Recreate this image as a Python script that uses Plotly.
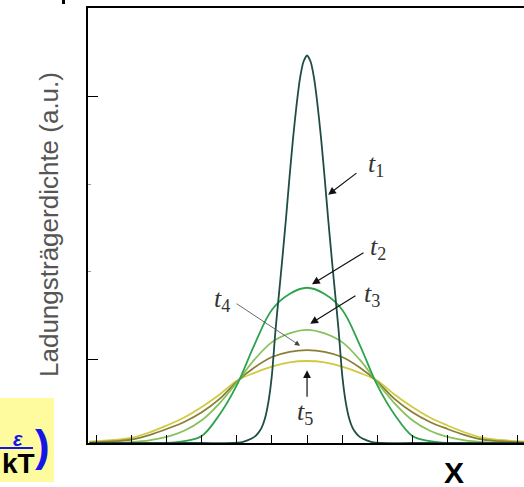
import plotly.graph_objects as go

# ---- data ----
X_WIDE = [-6.2, -6.0, -5.5, -5.0, -4.5, -4.0, -3.5, -3.0, -2.5, -2.0, -1.5, -1.0, -0.5, 0.0,
          0.5, 1.0, 1.5, 2.0, 2.5, 3.0, 3.5, 4.0, 4.5, 5.0, 5.5, 6.0, 6.2]
T2 = [0, 0, 0, 0, 0, 0.0, 0.02, 0.08, 0.32, 0.66, 1.12, 1.52, 1.70, 1.77,
      1.70, 1.52, 1.12, 0.66, 0.32, 0.08, 0.02, 0.0, 0, 0, 0, 0, 0]
T3 = [0, 0, 0, 0.01, 0.03, 0.07, 0.14, 0.26, 0.45, 0.69, 0.95, 1.15, 1.25, 1.29,
      1.25, 1.15, 0.95, 0.69, 0.45, 0.26, 0.14, 0.07, 0.03, 0.01, 0, 0, 0]
T4 = [0.005, 0.01, 0.02, 0.04, 0.09, 0.16, 0.24, 0.35, 0.50, 0.70, 0.86, 0.98, 1.04, 1.06,
      1.04, 0.98, 0.86, 0.70, 0.50, 0.35, 0.24, 0.16, 0.09, 0.04, 0.02, 0.01, 0.005]
T5 = [0.015, 0.02, 0.035, 0.06, 0.12, 0.20, 0.29, 0.41, 0.55, 0.71, 0.80, 0.87, 0.92, 0.935,
      0.92, 0.87, 0.80, 0.71, 0.55, 0.41, 0.29, 0.20, 0.12, 0.06, 0.035, 0.02, 0.015]

X_T1 = [-6.2, -3.0, -2.1, -1.85, -1.7, -1.5, -1.4, -1.3, -1.2, -1.1, -1.0, -0.9, -0.8, -0.7, -0.6, -0.5,
        -0.4, -0.3, -0.2, -0.1, 0.0, 0.1, 0.2, 0.3, 0.4, 0.5, 0.6, 0.7, 0.8, 0.9, 1.0,
        1.1, 1.2, 1.3, 1.4, 1.5, 1.7, 1.85, 2.1, 3.0, 6.2]
T1 = [0, 0, 0, 0.01, 0.03, 0.07, 0.11, 0.17, 0.28, 0.47, 0.78, 1.28, 1.70, 2.12, 2.56, 3.03,
      3.47, 3.85, 4.16, 4.35, 4.42, 4.35, 4.16, 3.85, 3.47, 3.03, 2.56, 2.12, 1.70, 1.28, 0.78,
      0.47, 0.28, 0.17, 0.11, 0.07, 0.03, 0.01, 0, 0, 0]

X_TICKS = [-6, -5, -4, -3, -2, -1, 0, 1, 2, 3, 4, 5, 6]
Y_TICKS_MAJOR = [0.95, 3.95]
Y_TICKS_MINOR = [1.95, 2.95]

LABELS = ["t1", "t2", "t3", "t4", "t5"]
LABEL_POS = {"t1": (1.97, 3.17), "t2": (2.02, 2.22), "t3": (1.85, 1.69),
             "t4": (-2.42, 1.63), "t5": (-0.06, 0.34)}
ARROWS = {"t1": ((1.45, 3.09), (0.60, 2.83)),
          "t2": ((1.65, 2.18), (0.14, 1.81)),
          "t3": ((1.42, 1.69), (0.09, 1.36)),
          "t4": ((-2.05, 1.60), (-0.20, 1.11)),
          "t5": ((0.0, 0.51), (0.0, 0.83))}

COLORS = {"t1": "#1f4d45", "t2": "#2ea34e", "t3": "#86c25a", "t4": "#8a7f34", "t5": "#d0ca42"}

fig = go.Figure()
for name, xs, ys in [("t5", X_WIDE, T5), ("t4", X_WIDE, T4), ("t3", X_WIDE, T3),
                     ("t2", X_WIDE, T2)]:
    fig.add_trace(go.Scatter(x=xs, y=ys, mode="lines", name=name,
                             line=dict(color=COLORS[name], width=1.8, shape="spline", smoothing=1.0),
                             showlegend=False, hoverinfo="skip"))
fig.add_trace(go.Scatter(x=X_T1, y=T1, mode="lines", name="t1",
                         line=dict(color=COLORS["t1"], width=1.8, shape="spline", smoothing=0.6),
                         showlegend=False, hoverinfo="skip"))

# invisible trace on the secondary y axis so that it renders
fig.add_trace(go.Scatter(x=[0], y=[0], yaxis="y2", mode="markers", marker=dict(opacity=0),
                         showlegend=False, hoverinfo="skip"))

annotations = []
for lab in LABELS:
    x, y = LABEL_POS[lab]
    annotations.append(dict(x=x, y=y, xref="x", yref="y", showarrow=False,
                            xanchor="center", yanchor="middle",
                            text="<i>t</i><sub>%s</sub>" % lab[1],
                            font=dict(family="Liberation Serif", size=26, color="#333333")))
    (tx, ty), (hx, hy) = ARROWS[lab]
    annotations.append(dict(x=hx, y=hy, ax=tx, ay=ty, xref="x", yref="y", axref="x", ayref="y",
                            text="", showarrow=True, arrowhead=2, arrowsize=1.3,
                            arrowwidth=1.2 if lab != "t4" else 0.8,
                            arrowcolor="#111111" if lab != "t4" else "#444444"))


def px(xp):
    return (xp - 88) / 436


def py(yp):
    return (443 - yp) / 435


annotations += [
    dict(text="Ladungsträgerdichte (a.u.)", xref="paper", yref="paper",
         x=px(49), y=py(225), xanchor="center", yanchor="middle", textangle=-90, showarrow=False,
         font=dict(family="Liberation Sans", size=26, color="#555555")),
    dict(text="<b>X</b>", xref="paper", yref="paper", x=px(454), y=py(473),
         xanchor="center", yanchor="middle",
         showarrow=False, font=dict(family="Liberation Sans", size=30, color="#000000")),
    dict(text="<b><i>ε</i></b>", xref="paper", yref="paper", x=px(18), y=py(439),
         xanchor="center", yanchor="middle",
         showarrow=False, font=dict(family="Liberation Sans", size=20, color="#1515e8")),
    dict(text="<b>kT</b>", xref="paper", yref="paper", x=px(18), y=py(463),
         xanchor="center", yanchor="middle",
         showarrow=False, font=dict(family="Liberation Sans", size=28, color="#000000")),
    dict(text="<b>)</b>", xref="paper", yref="paper", x=px(42), y=py(445),
         xanchor="center", yanchor="middle",
         showarrow=False, font=dict(family="Liberation Sans", size=44, color="#1515e8")),
]

shapes = [
    dict(type="rect", xref="paper", yref="paper", x0=px(0), x1=px(54),
         y0=py(482), y1=py(398), fillcolor="#fdfb9e", line=dict(width=0), layer="below"),
    dict(type="line", xref="paper", yref="paper", x0=px(0), x1=px(33),
         y0=py(448), y1=py(448), line=dict(color="#1515e8", width=2)),
    dict(type="rect", xref="paper", yref="paper", x0=px(62), x1=px(65),
         y0=py(4), y1=py(0), fillcolor="#000000", line=dict(width=0)),
]

fig.update_layout(
    width=524, height=487,
    margin=dict(l=88, r=0, t=8, b=44),
    paper_bgcolor="white", plot_bgcolor="white",
    xaxis=dict(range=[-6.24, 6.18], tickvals=X_TICKS, ticks="inside", ticklen=8, tickwidth=1,
               tickcolor="#000", showticklabels=False, showgrid=False, zeroline=False,
               showline=True, linecolor="#000", linewidth=1.5, mirror=True),
    yaxis=dict(range=[0, 4.96], tickvals=Y_TICKS_MAJOR, ticks="inside", ticklen=10, tickwidth=1,
               tickcolor="#000", showticklabels=False, showgrid=False, zeroline=False,
               showline=True, linecolor="#000", linewidth=1.5),
    yaxis2=dict(range=[0, 4.96], overlaying="y", side="left", tickvals=Y_TICKS_MINOR,
                ticks="inside", ticklen=3, tickcolor="#999", showticklabels=False,
                showgrid=False, zeroline=False, showline=False),
    annotations=annotations, shapes=shapes,
)

fig.write_html("out.html", config={"displayModeBar": False},
               post_script="document.body.style.margin='0';document.body.style.overflow='hidden';")
